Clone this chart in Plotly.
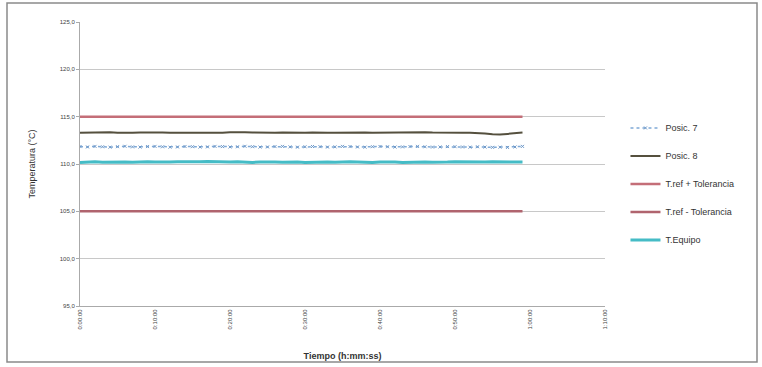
import plotly.graph_objects as go

minutes = list(range(60))
pos7 = [111.84,111.80,111.86,111.82,111.78,111.83,111.87,111.81,111.79,111.84,
        111.86,111.82,111.78,111.80,111.85,111.83,111.79,111.81,111.86,111.84,
        111.80,111.82,111.87,111.83,111.79,111.80,111.84,111.86,111.81,111.78,
        111.82,111.85,111.83,111.79,111.81,111.86,111.84,111.80,111.78,111.83,
        111.85,111.82,111.79,111.81,111.84,111.86,111.82,111.79,111.80,111.84,
        111.83,111.80,111.78,111.82,111.79,111.76,111.78,111.75,111.80,111.86]
pos8 = [113.30,113.32,113.38,113.40,113.36,113.30,113.28,113.30,113.32,113.35,
        113.36,113.34,113.30,113.29,113.31,113.33,113.34,113.32,113.30,113.31,
        113.36,113.38,113.35,113.32,113.30,113.29,113.31,113.33,113.30,113.28,
        113.30,113.33,113.35,113.31,113.29,113.30,113.34,113.37,113.33,113.30,
        113.31,113.35,113.38,113.34,113.32,113.33,113.36,113.32,113.30,113.31,
        113.33,113.31,113.30,113.28,113.22,113.15,113.12,113.18,113.28,113.32]
tref_plus = [115.0] * 60
tref_minus = [105.0] * 60
t_equipo = [110.16,110.20,110.24,110.19,110.22,110.26,110.21,110.18,110.22,110.25,
            110.20,110.17,110.21,110.24,110.22,110.19,110.23,110.26,110.22,110.18,
            110.21,110.24,110.20,110.17,110.22,110.25,110.21,110.19,110.23,110.20,
            110.16,110.19,110.23,110.21,110.18,110.22,110.25,110.22,110.18,110.15,
            110.20,110.23,110.21,110.17,110.20,110.24,110.22,110.19,110.16,110.20,
            110.23,110.21,110.18,110.16,110.20,110.23,110.21,110.19,110.17,110.20]

x_tickvals = [0, 10, 20, 30, 40, 50, 60, 70]
x_ticktext = ["0:00:00", "0:10:00", "0:20:00", "0:30:00", "0:40:00", "0:50:00", "1:00:00", "1:10:00"]
y_tickvals = [95, 100, 105, 110, 115, 120, 125]
y_ticktext = ["95,0", "100,0", "105,0", "110,0", "115,0", "120,0", "125,0"]

fig = go.Figure()
fig.add_trace(go.Scatter(x=minutes, y=pos7, name="Posic. 7", mode="lines+markers",
                         line=dict(color="#7fa9d6", width=1.5, dash="dot"),
                         marker=dict(symbol="x-thin", size=3, color="#6e98c8", line=dict(width=1, color="#6e98c8")),
                         legendgroup="a"))
fig.add_trace(go.Scatter(x=minutes, y=pos8, name="Posic. 8", mode="lines",
                         line=dict(color="#55503e", width=2), legendgroup="b"))
fig.add_trace(go.Scatter(x=minutes, y=tref_plus, name="T.ref + Tolerancia", mode="lines",
                         line=dict(color="#c46e78", width=2.5), legendgroup="c"))
fig.add_trace(go.Scatter(x=minutes, y=tref_minus, name="T.ref - Tolerancia", mode="lines",
                         line=dict(color="#b0646e", width=2.5), legendgroup="d"))
fig.add_trace(go.Scatter(x=minutes, y=t_equipo, name="T.Equipo", mode="lines",
                         line=dict(color="#45bcc6", width=3), legendgroup="e"))

fig.update_layout(
    width=762, height=367,
    margin=dict(l=80, r=157, t=22, b=61),
    paper_bgcolor="white", plot_bgcolor="white",
    font=dict(family="Liberation Sans, Arial, sans-serif", color="#333"),
    legend=dict(x=1.039, y=0.678, xanchor="left", yanchor="top",
                font=dict(size=9, color="#333"), itemwidth=30, tracegroupgap=9,
                bgcolor="rgba(0,0,0,0)"),
    xaxis=dict(range=[0, 70], tickvals=x_tickvals, ticktext=x_ticktext, tickangle=-90,
               tickfont=dict(size=6, color="#444"), showgrid=False, zeroline=False,
               showline=True, linecolor="#aaaaaa", linewidth=1, automargin=False,
               title=dict(text="<b>Tiempo (h:mm:ss)</b>", font=dict(size=9, color="#333"), standoff=24)),
    yaxis=dict(range=[95, 125], tickvals=y_tickvals, ticktext=y_ticktext,
               tickfont=dict(size=6, color="#444"), showgrid=True, gridcolor="#c8c8c8", gridwidth=1,
               zeroline=False, showline=True, linecolor="#aaaaaa", linewidth=1, automargin=False,
               ticks="outside", ticklen=3, tickcolor="#aaaaaa",
               title=dict(text="Temperatura (°C)", font=dict(size=9, color="#333"), standoff=22)),
    shapes=[dict(type="rect", xref="paper", yref="paper",
                 x0=(7 - 80) / 525, x1=(757 - 80) / 525,
                 y0=(306 - 362) / 284, y1=(306 - 3) / 284,
                 line=dict(color="#8a8a8a", width=1.5), fillcolor="rgba(0,0,0,0)")],
)

fig.write_html("out.html", config={"displayModeBar": False},
               post_script="document.body.style.margin='0';")
